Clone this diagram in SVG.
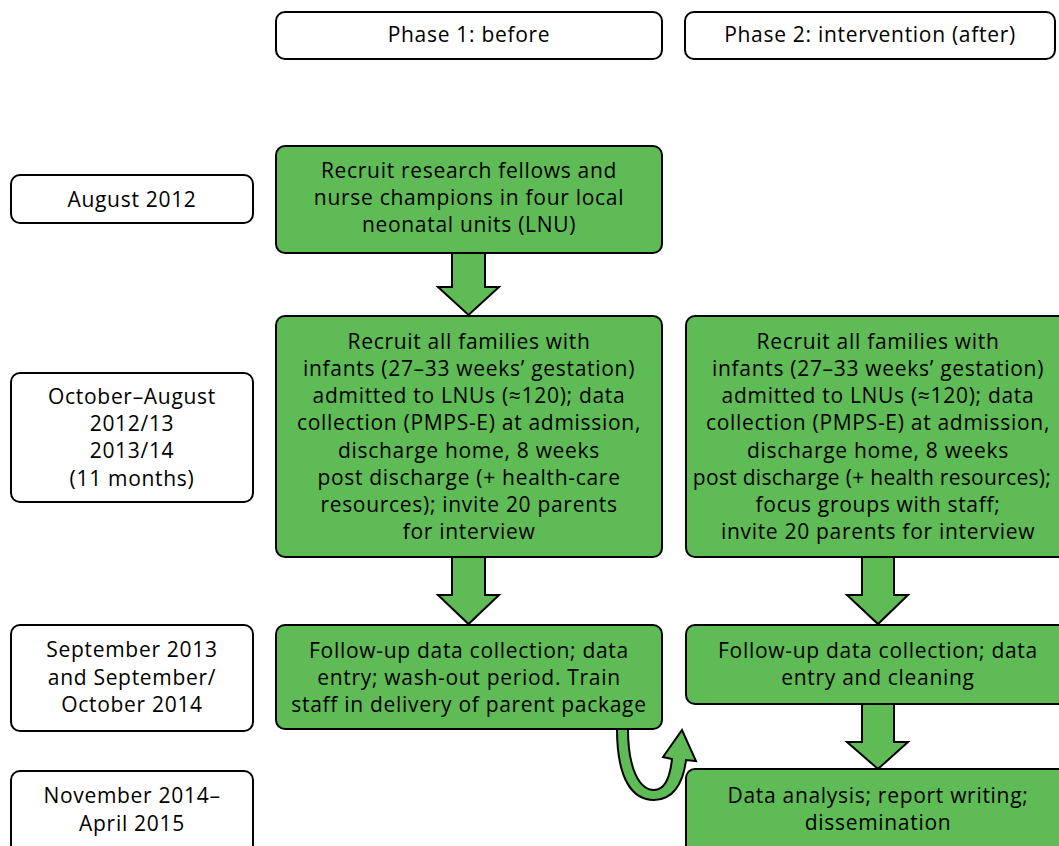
<svg xmlns="http://www.w3.org/2000/svg" width="1059" height="846" viewBox="0 0 1059 846">
<style>
.w{fill:#ffffff;stroke:#000;stroke-width:2}
.g{fill:#5EBB55;stroke:#000;stroke-width:2}
.a{fill:#5EBB55;stroke:#000;stroke-width:2;stroke-linejoin:miter}
text{font-family:"Open Sans","Liberation Sans",sans-serif;font-size:21px;letter-spacing:0.7px;fill:#000;text-anchor:middle}
.tight{letter-spacing:0.3px}
</style>
<rect width="1059" height="846" fill="#fff"/>
<g id="phase1"><rect class="w" x="276" y="12" width="386" height="47" rx="9"/><text x="469" y="42">Phase 1: before</text></g>
<g id="phase2"><rect class="w" x="685" y="12" width="370" height="47" rx="9"/><text x="870" y="42">Phase 2: intervention (after)</text></g>

<g id="date1"><rect class="w" x="11" y="175" width="242" height="48" rx="9"/><text x="132" y="207">August 2012</text></g>
<g id="date2"><rect class="w" x="11" y="373" width="242" height="129" rx="9"/>
<text x="132" y="404">October–August</text><text x="132" y="431">2012/13</text><text x="132" y="458">2013/14</text><text x="132" y="486">(11 months)</text></g>
<g id="date3"><rect class="w" x="11" y="625" width="242" height="106" rx="9"/>
<text x="132" y="657">September 2013</text><text x="132" y="685">and September/</text><text x="132" y="712">October 2014</text></g>
<g id="date4"><rect class="w" x="11" y="771" width="242" height="90" rx="9"/>
<text x="132" y="803">November 2014–</text><text x="132" y="831">April 2015</text></g>

<g id="recruit-fellows"><rect class="g" x="276" y="146" width="386" height="107" rx="9"/>
<text x="469" y="178">Recruit research fellows and</text><text x="469" y="205">nurse champions in four local</text><text x="469" y="232">neonatal units (LNU)</text></g>

<g id="recruit-before"><rect class="g" x="276" y="316" width="386" height="241" rx="9"/>
<text x="469" y="349">Recruit all families with</text>
<text x="469" y="376">infants (27–33 weeks’ gestation)</text>
<text x="469" y="403">admitted to LNUs (≈120); data</text>
<text x="469" y="430">collection (PMPS-E) at admission,</text>
<text x="469" y="458">discharge home, 8 weeks</text>
<text x="469" y="485">post discharge (+ health-care</text>
<text x="469" y="512">resources); invite 20 parents</text>
<text x="469" y="539">for interview</text></g>

<g id="recruit-after"><rect class="g" x="686" y="316" width="384" height="241" rx="9"/>
<text x="878" y="349">Recruit all families with</text>
<text x="878" y="376">infants (27–33 weeks’ gestation)</text>
<text x="878" y="403">admitted to LNUs (≈120); data</text>
<text x="878" y="430">collection (PMPS-E) at admission,</text>
<text x="878" y="458">discharge home, 8 weeks</text>
<text class="tight" x="872" y="485">post discharge (+ health resources);</text>
<text x="878" y="512">focus groups with staff;</text>
<text x="878" y="539">invite 20 parents for interview</text></g>

<g id="followup-before"><rect class="g" x="276" y="625" width="386" height="104" rx="9"/>
<text x="469" y="658">Follow-up data collection; data</text>
<text x="469" y="685">entry; wash-out period. Train</text>
<text x="469" y="712">staff in delivery of parent package</text></g>

<g id="followup-after"><rect class="g" x="686" y="625" width="384" height="79" rx="9"/>
<text x="878" y="658">Follow-up data collection; data</text>
<text x="878" y="685">entry and cleaning</text></g>

<g id="analysis"><rect class="g" x="686" y="769" width="384" height="100" rx="9"/>
<text x="878" y="803">Data analysis; report writing;</text>
<text x="878" y="830">dissemination</text></g>

<g id="connectors">
<path class="a" d="M452 253 L485 253 L485 287 L499 287 L468.5 315 L438 287 L452 287 Z"/>
<path class="a" d="M452 557 L485 557 L485 595 L499 595 L468.5 624 L438 595 L452 595 Z"/>
<path class="a" d="M862 557 L894 557 L894 595 L908 595 L878 624 L847 595 L862 595 Z"/>
<path class="a" d="M862 704 L894 704 L894 742 L908 742 L878 769 L847 742 L862 742 Z"/>
<path class="a" d="M617 729 L628 729 C628 770 640 790 654 790 C664 790 670 778 672 759 L663 757 L682 730 L696 761 L686 760 C683 785 672 800 654 800 C634 800 617 782 617 729 Z"/>
</g>
</svg>
